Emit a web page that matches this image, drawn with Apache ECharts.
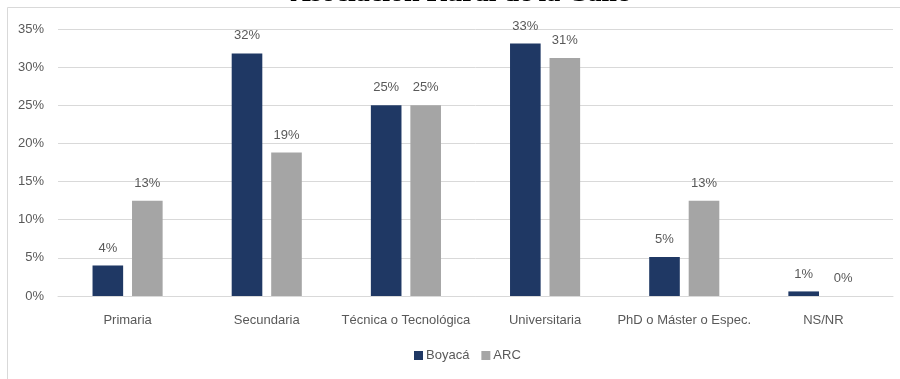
<!DOCTYPE html>
<html>
<head>
<meta charset="utf-8">
<style>
  html, body { margin: 0; padding: 0; background: #ffffff; }
  #chart { width: 900px; height: 379px; }
</style>
<script src="https://cdn.jsdelivr.net/npm/echarts@6/dist/echarts.min.js"></script>
</head>
<body>
<div id="chart"></div>
<script>
// Education level categories
const categories = ['Primaria', 'Secundaria', 'Técnica o Tecnológica', 'Universitaria', 'PhD o Máster o Espec.', 'NS/NR'];
// Share of respondents (%) per group
const boyacaValues = [4.0, 31.8, 25.0, 33.1, 5.1, 0.6];
const arcValues = [12.5, 18.8, 25.0, 31.2, 12.5, 0.0];
// Value axis ticks (%)
const yTicks = [0, 5, 10, 15, 20, 25, 30, 35];

const FONT = '"Liberation Sans Narrow", "Liberation Sans", "DejaVu Sans Condensed", sans-serif';
const TEXT = '#595959';
const GRID = '#d9d9d9';

const chart = echarts.init(document.getElementById('chart'), null, { renderer: 'canvas' });

const labelCfg = {
  show: true,
  position: 'top',
  distance: 11,
  color: TEXT,
  fontFamily: FONT,
  fontSize: 13,
  formatter: p => Math.round(p.value) + '%'
};

chart.setOption({
  animation: false,
  backgroundColor: '#ffffff',
  graphic: [
    {
      type: 'rect',
      shape: { x: 7.5, y: 7.5, width: 1000, height: 1000 },
      style: { fill: 'none', stroke: GRID, lineWidth: 1 },
      z: -1
    },
    {
      // Title sits above the frame, mostly outside the canvas
      type: 'text',
      x: 460,
      y: -20,
      style: {
        text: 'Asociación Rural de la Calle',
        font: 'bold 28px "Liberation Serif", "DejaVu Serif", serif',
        fill: '#000000',
        textAlign: 'center',
        textVerticalAlign: 'top'
      }
    }
  ],
  grid: { left: 58, right: 7, top: 29, bottom: 83, containLabel: false },
  legend: {
    bottom: 12,
    left: 409,
    itemWidth: 9,
    itemHeight: 9,
    itemGap: 12,
    icon: 'rect',
    textStyle: { color: TEXT, fontFamily: FONT, fontSize: 13, padding: [0, 0, 0, -2] },
    data: ['Boyacá', 'ARC']
  },
  xAxis: {
    type: 'category',
    data: categories,
    axisLine: { show: true, lineStyle: { color: GRID, width: 1 } },
    axisTick: { show: false },
    axisLabel: { color: TEXT, fontFamily: FONT, fontSize: 13, margin: 18, interval: 0 }
  },
  yAxis: {
    type: 'value',
    min: yTicks[0],
    max: yTicks[yTicks.length - 1],
    interval: yTicks[1] - yTicks[0],
    axisLine: { show: false },
    axisTick: { show: false },
    splitLine: { lineStyle: { color: GRID, width: 1 } },
    axisLabel: { color: TEXT, fontFamily: FONT, fontSize: 13, margin: 14, formatter: v => v + '%' }
  },
  series: [
    {
      name: 'Boyacá',
      type: 'bar',
      data: boyacaValues,
      barWidth: '22%',
      barGap: '29%',
      itemStyle: { color: '#1f3864' },
      label: labelCfg
    },
    {
      name: 'ARC',
      type: 'bar',
      data: arcValues,
      barWidth: '22%',
      itemStyle: { color: '#a5a5a5' },
      label: labelCfg
    }
  ]
});
</script>
</body>
</html>
